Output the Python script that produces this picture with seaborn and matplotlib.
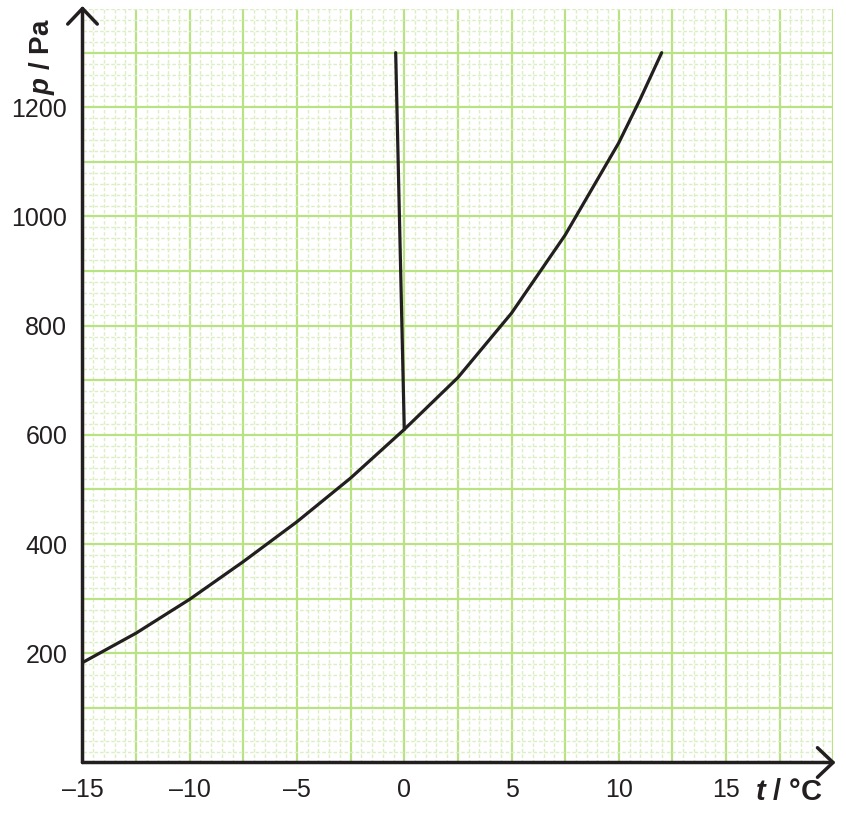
import numpy as np
import pandas as pd
import matplotlib
matplotlib.use("Agg")
import matplotlib.pyplot as plt
from matplotlib.ticker import MultipleLocator, FuncFormatter
import seaborn as sns

# ---- data ----
curve_t = [-15, -12.5, -10, -7.5, -5, -2.5, 0, 2.5, 5, 7.5, 10, 11, 12]
curve_p = [183, 237, 299, 368, 441, 521, 610, 705, 823, 966, 1135, 1215, 1300]
melt_t = [0.0, -0.4]
melt_p = [610, 1300]

x_tick_values = [-15, -10, -5, 0, 5, 10, 15]
x_tick_labels = ["\u201315", "\u201310", "\u20135", "0", "5", "10", "15"]
y_tick_values = [200, 400, 600, 800, 1000, 1200]
y_tick_labels = ["200", "400", "600", "800", "1000", "1200"]

sns.set_theme(style="white")
plt.rcParams["font.family"] = ["Liberation Sans", "DejaVu Sans"]
plt.rcParams["mathtext.fontset"] = "custom"
plt.rcParams["mathtext.it"] = "Liberation Sans:italic:bold"
plt.rcParams["mathtext.bf"] = "Liberation Sans:bold"
plt.rcParams["mathtext.rm"] = "Liberation Sans:bold"

fig = plt.figure(figsize=(8.46, 8.17), dpi=100)
ax = fig.add_axes([82.5 / 846, (817 - 762.5) / 817, 750.8 / 846, 753.5 / 817])

ink = "#231f20"
curve_df = pd.DataFrame({"t": curve_t, "p": curve_p})
melt_df = pd.DataFrame({"t": melt_t, "p": melt_p})
sns.lineplot(data=curve_df, x="t", y="p", ax=ax, color=ink, lw=2.3, sort=False, zorder=5)
sns.lineplot(data=melt_df, x="t", y="p", ax=ax, color=ink, lw=2.3, sort=False, zorder=5)
for ln in ax.lines:
    ln.set_solid_joinstyle("round")
    ln.set_solid_capstyle("round")

ax.set_xlim(-15, 20)
ax.set_ylim(0, 1380)

# grid: major every 2.5 / 100, minor every 0.5 / 20
ax.xaxis.set_major_locator(MultipleLocator(2.5))
ax.yaxis.set_major_locator(MultipleLocator(100))
ax.xaxis.set_minor_locator(MultipleLocator(0.5))
ax.yaxis.set_minor_locator(MultipleLocator(20))

xlab = {v: l for v, l in zip(x_tick_values, x_tick_labels)}
ylab = {v: l for v, l in zip(y_tick_values, y_tick_labels)}
ax.xaxis.set_major_formatter(FuncFormatter(lambda v, pos: xlab.get(round(v, 3), "")))
ax.yaxis.set_major_formatter(FuncFormatter(lambda v, pos: ylab.get(int(round(v)), "")))

ax.grid(which="major", color="#b9e283", lw=1.6, zorder=1)
ax.grid(which="minor", color="#dcefc2", lw=1.0, ls=(0, (2.5, 1.5)), zorder=0)
ax.set_axisbelow(True)

ax.tick_params(which="both", length=0)
ax.tick_params(axis="x", labelsize=18, pad=11, colors=ink)
ax.tick_params(axis="y", labelsize=18, pad=11, colors=ink)

for s in ax.spines.values():
    s.set_visible(False)

ax.set_xlabel("")
ax.set_ylabel("")

arrow_kw = dict(arrowstyle="->,head_length=0.4,head_width=0.38", lw=2.5, color=ink,
                shrinkA=0, shrinkB=0, mutation_scale=28)
ax.annotate("", xy=(0, 1.004), xytext=(0, 0), xycoords="axes fraction",
            textcoords="axes fraction", arrowprops=arrow_kw, annotation_clip=False, zorder=6)
ax.annotate("", xy=(1.003, 0), xytext=(0, 0), xycoords="axes fraction",
            textcoords="axes fraction", arrowprops=arrow_kw, annotation_clip=False, zorder=6)

fig.text(42 / 846, 1 - 57 / 817, r"$p$ / Pa", rotation=90, ha="center", va="center",
         fontsize=20, fontweight="bold", color=ink)
fig.text(789 / 846, 1 - 792 / 817, r"$t$ / °C", ha="center", va="center",
         fontsize=21, fontweight="bold", color=ink)

fig.savefig("out.png", dpi=100)
